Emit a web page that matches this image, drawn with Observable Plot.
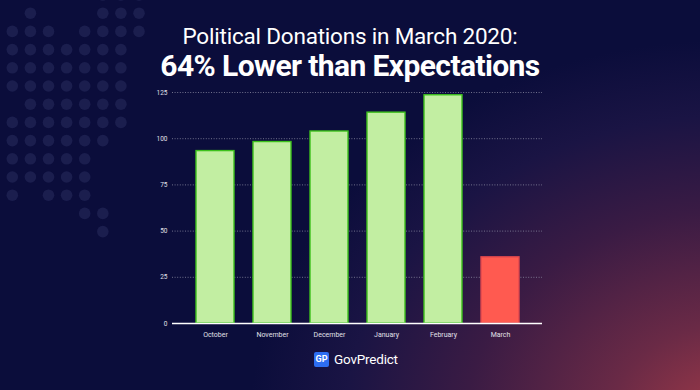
<!DOCTYPE html>
<html>
<head>
<meta charset="utf-8">
<script src="https://cdn.jsdelivr.net/npm/d3@7"></script>
<script src="https://cdn.jsdelivr.net/npm/@observablehq/plot@0.6"></script>
<style>
  html, body { margin: 0; padding: 0; }
  body {
    width: 700px; height: 390px; overflow: hidden; position: relative;
    font-family: Roboto, "Noto Sans", sans-serif;
    background: radial-gradient(ellipse 480px 380px at 730px 420px, #a03a48 0%, #6a2a46 25%, #3a1b44 55%, #1a1444 80%, rgba(11,13,58,0) 100%), #0b0d3b;
  }
  #dots { position: absolute; left: 0; top: 0; }
  #title { position: absolute; left: 0; width: 700px; top: 23px; text-align: center; color: #fff; }
  #title .l1 { font-size: 22.5px; font-weight: 400; line-height: 26px; letter-spacing: -0.2px; }
  #title .l2 { font-size: 30px; font-weight: 700; line-height: 34px; letter-spacing: -0.6px; }
  #chart { position: absolute; left: 0; top: 82px; }
  #logo { position: absolute; left: 314px; top: 351px; display: flex; align-items: center; color: #fff; }
  #logo .gp { background: #2d6ef2; color: #fff; font-size: 9px; font-weight: 700; width: 15px; height: 15px; line-height: 15px; text-align: center; border-radius: 2px; }
  #logo .name { font-size: 13.5px; margin-left: 5px; letter-spacing: -0.2px; }
</style>
</head>
<body>
<svg id="dots" width="180" height="245"></svg>
<div id="title">
  <div class="l1">Political Donations in March 2020:</div>
  <div class="l2">64% Lower than Expectations</div>
</div>
<div id="chart"></div>
<div id="logo"><div class="gp">GP</div><div class="name">GovPredict</div></div>
<script>
// Data
const months = ["October", "November", "December", "January", "February", "March"];
const donations = [93.3, 98.2, 103.9, 114.1, 123.5, 35.8];
const highlight = [false, false, false, false, false, true];
const yTicks = [0, 25, 50, 75, 100, 125];

// Decorative dot pattern (background texture)
const dotRows = [
  "00000111",
  "01000111",
  "11101111",
  "11111110",
  "11111110",
  "11111110",
  "01111110",
  "11111110",
  "11111100",
  "11111000",
  "11111000",
  "10111000",
  "00001100",
  "00000100"
];
const dotCells = [];
dotRows.forEach((row, r) => row.split("").forEach((c, k) => { if (c === "1") dotCells.push({r, k}); }));
d3.select("#dots").selectAll("circle").data(dotCells).join("circle")
  .attr("cx", d => 12.3 + d.k * 18.1)
  .attr("cy", d => -5 + d.r * 18.2)
  .attr("r", 5.8)
  .attr("fill", "#1b1e4e");

const data = months.map((m, i) => ({month: m, value: donations[i], hi: highlight[i]}));

const chart = Plot.plot({
  width: 700,
  height: 266,
  marginTop: 10,
  marginBottom: 25,
  marginLeft: 172,
  marginRight: 158,
  style: {background: "transparent", color: "#fff", fontFamily: "Roboto, sans-serif"},
  x: {domain: months, paddingInner: 0.34, paddingOuter: 0.36, label: null},
  y: {domain: [0, 125], label: null},
  marks: [
    Plot.gridY(yTicks, {stroke: "#8a8aa0", strokeOpacity: 0.8, strokeDasharray: "1,1.6", strokeWidth: 1}),
    Plot.barY(data, {
      x: "month", y: "value",
      fill: d => d.hi ? "#ff5a50" : "#c2eea2",
      stroke: d => d.hi ? "#e2484e" : "#3dc11c",
      strokeWidth: 1.4
    }),
    Plot.ruleY([0], {stroke: "#fff", strokeWidth: 1.5}),
    Plot.axisY(yTicks, {tickSize: 0, tickPadding: 5, fontSize: 6.5, fill: "#e0e0e8", label: null}),
    Plot.axisX({tickSize: 0, tickPadding: 9, fontSize: 7, fill: "#e0e0e8", label: null})
  ]
});
document.getElementById("chart").appendChild(chart);
</script>
</body>
</html>
